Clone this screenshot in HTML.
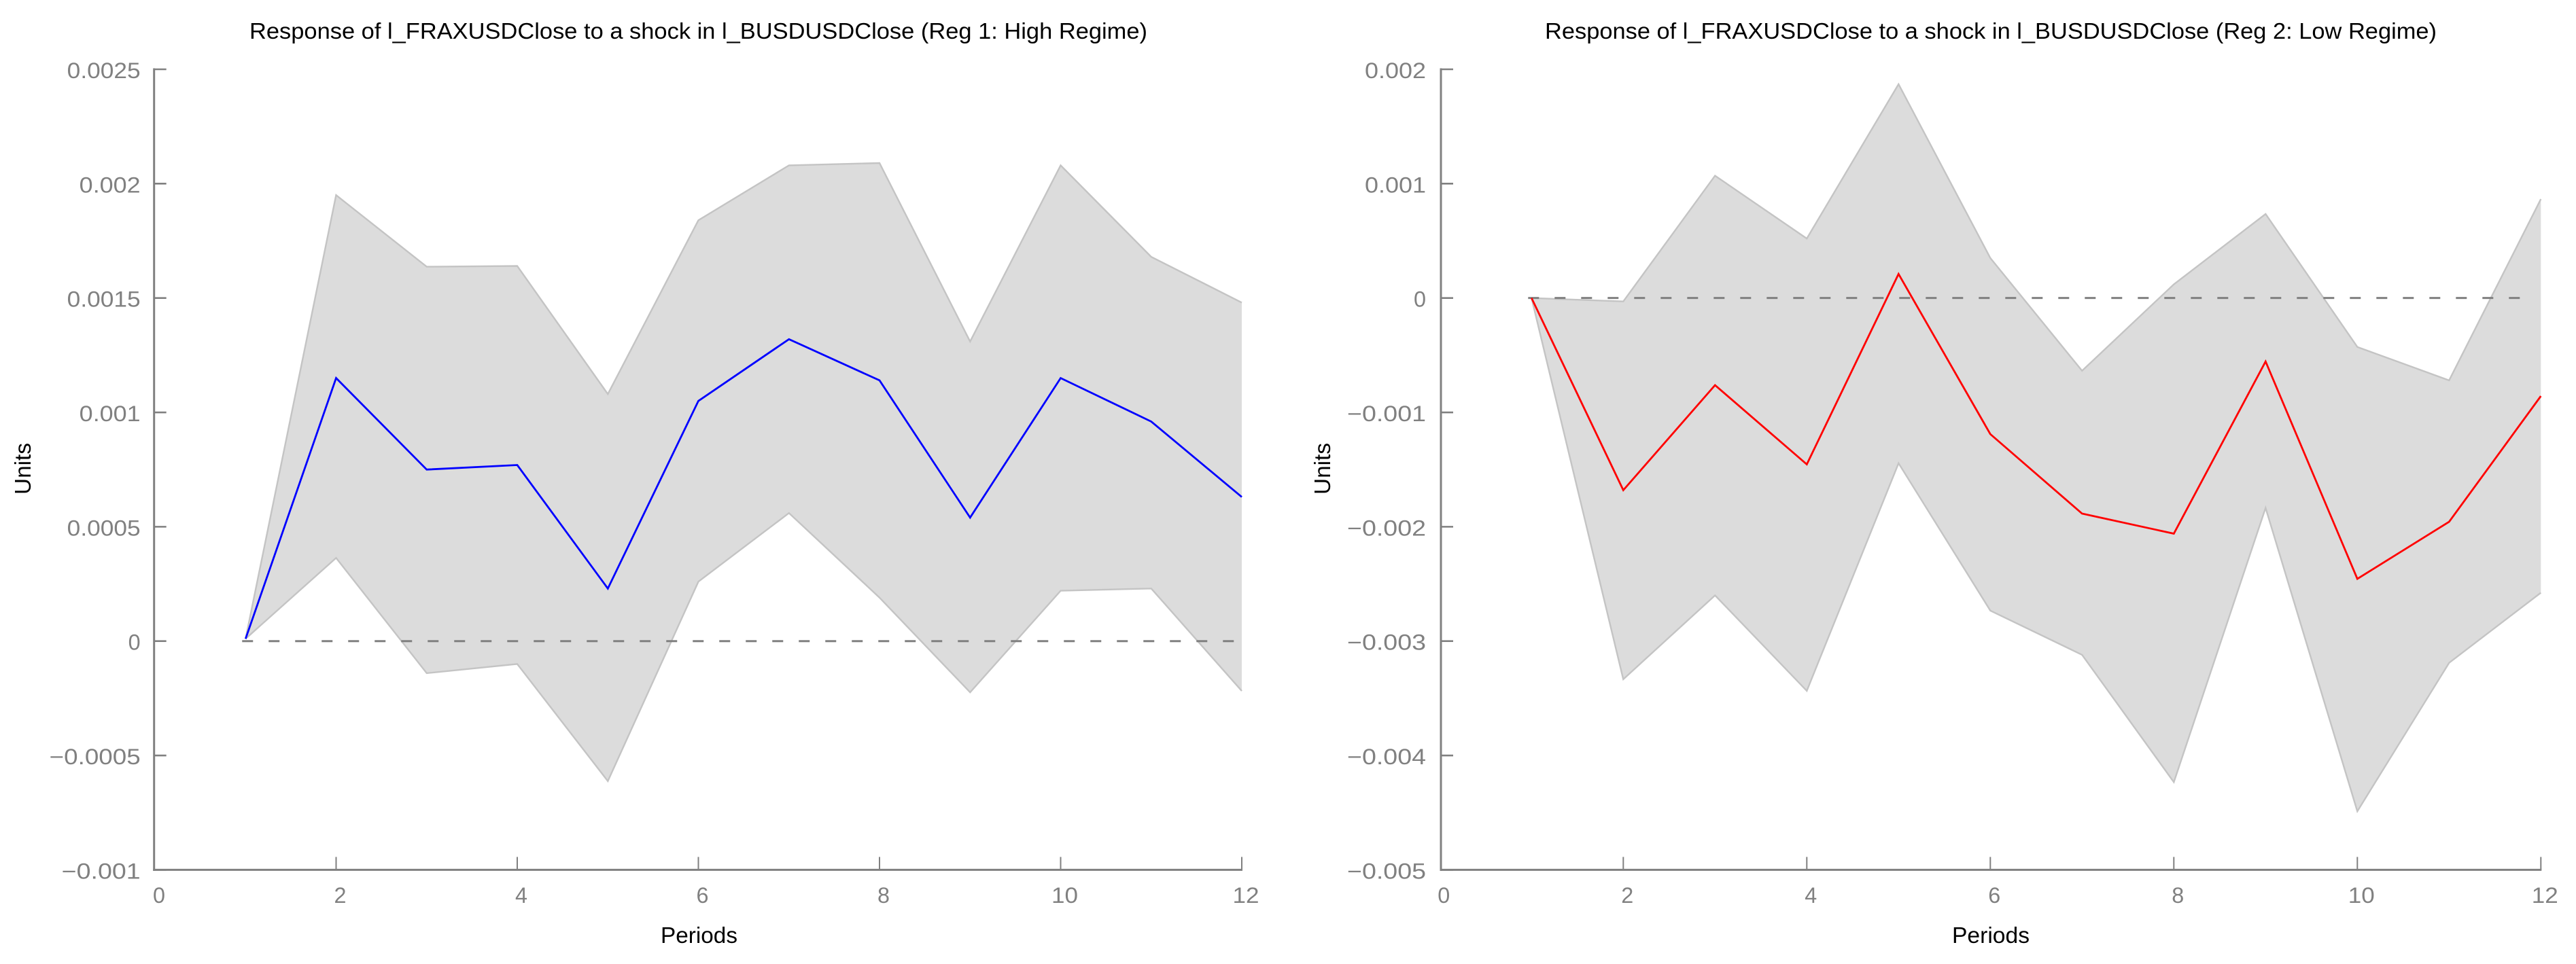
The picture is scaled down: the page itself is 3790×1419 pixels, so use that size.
<!DOCTYPE html>
<html lang="en">
<head>
<meta charset="utf-8">
<title>Impulse responses by regime</title>
<style>
html,body{margin:0;padding:0;background:#fff;width:3790px;height:1419px;overflow:hidden}
svg{display:block}
text{font-family:"Liberation Sans",sans-serif}
</style>
</head>
<body>
<svg id="chart-root" xmlns="http://www.w3.org/2000/svg" width="3790" height="1419" viewBox="0 0 3790 1419">
  <rect x="0" y="0" width="3790" height="1419" fill="#ffffff"/>
  <g id="panel-left">
    <text x="367" y="57" font-size="33" fill="#000" textLength="1321" lengthAdjust="spacingAndGlyphs">Response of l_FRAXUSDClose to a shock in l_BUSDUSDClose (Reg 1: High Regime)</text>
    <text x="972" y="1388" font-size="33" fill="#000" textLength="113" lengthAdjust="spacingAndGlyphs">Periods</text>
    <text transform="translate(45 728) rotate(-90)" x="0" y="0" font-size="33" fill="#000" textLength="76" lengthAdjust="spacingAndGlyphs">Units</text>
  </g>
  <g id="panel-right">
    <text x="2273" y="57" font-size="33" fill="#000" textLength="1312" lengthAdjust="spacingAndGlyphs">Response of l_FRAXUSDClose to a shock in l_BUSDUSDClose (Reg 2: Low Regime)</text>
    <text x="2872" y="1388" font-size="33" fill="#000" textLength="114" lengthAdjust="spacingAndGlyphs">Periods</text>
    <text transform="translate(1957 728) rotate(-90)" x="0" y="0" font-size="33" fill="#000" textLength="76" lengthAdjust="spacingAndGlyphs">Units</text>
  </g>
</svg>
<script>
const periods = [1, 2, 3, 4, 5, 6, 7, 8, 9, 10, 11, 12];
const xTicks = [0, 2, 4, 6, 8, 10, 12];
const xTickLabels = ['0', '2', '4', '6', '8', '10', '12'];

const highTicks = [0.0025, 0.002, 0.0015, 0.001, 0.0005, 0, -0.0005, -0.001];
const highTickLabels = ['0.0025', '0.002', '0.0015', '0.001', '0.0005', '0', '\u22120.0005', '\u22120.001'];
const highResponse = [0.00001, 0.00115, 0.00075, 0.00077, 0.00023, 0.00105, 0.00132, 0.00114, 0.00054, 0.00115, 0.00096, 0.00063];
const highUpper = [0.00001, 0.00195, 0.001637, 0.00164, 0.00108, 0.00184, 0.00208, 0.00209, 0.00131, 0.00208, 0.00168, 0.00148];
const highLower = [0.00001, 0.000364, -0.00014, -0.0001, -0.000612, 0.00026, 0.00056, 0.00019, -0.000224, 0.00022, 0.00023, -0.000218];

const lowTicks = [0.002, 0.001, 0, -0.001, -0.002, -0.003, -0.004, -0.005];
const lowTickLabels = ['0.002', '0.001', '0', '\u22120.001', '\u22120.002', '\u22120.003', '\u22120.004', '\u22120.005'];
const lowResponse = [0, -0.00168, -0.000762, -0.001454, 0.00021, -0.00119, -0.001885, -0.00206, -0.000555, -0.002456, -0.001957, -0.000857];
const lowUpper = [0, -0.00003, 0.00107, 0.00052, 0.00187, 0.00035, -0.000636, 0.00012, 0.000735, -0.000428, -0.00072, 0.000865];
const lowLower = [0, -0.003334, -0.0026, -0.003435, -0.001445, -0.002733, -0.00312, -0.004233, -0.001835, -0.004488, -0.00319, -0.002577];

const SVG_NS = 'http://www.w3.org/2000/svg';

function make(parent, tag, attrs) {
  const el = document.createElementNS(SVG_NS, tag);
  for (const k in attrs) el.setAttribute(k, attrs[k]);
  parent.appendChild(el);
  return el;
}

function labelWidth(s) {
  let w = 0;
  for (const c of s) w += c === '\u2212' ? 26 : 18;
  return w;
}

function drawPanel(cfg) {
  const host = document.getElementById(cfg.host);
  const sx = v => cfg.x0 + v * cfg.xUnit;
  const sy = v => cfg.yBottom - (v - cfg.yMin) * (cfg.yBottom - cfg.yTop) / (cfg.yMax - cfg.yMin);
  const pts = arr => arr.map((v, i) => sx(periods[i]).toFixed(1) + ',' + sy(v).toFixed(1));

  const band = make(host, 'polygon', {
    points: pts(cfg.upper).concat(pts(cfg.lower).reverse()).join(' '),
    fill: '#dcdcdc', stroke: 'none'
  });
  
  

  const up = make(host, 'polyline', {
    points: pts(cfg.upper).join(' '),
    fill: 'none', stroke: '#c4c4c4', 'stroke-width': 2.4
  });
  
  

  const low = make(host, 'polyline', {
    points: pts(cfg.lower).join(' '),
    fill: 'none', stroke: '#c4c4c4', 'stroke-width': 2.4
  });
  
  

  const zero = make(host, 'line', {
    x1: sx(periods[0]) - 5, x2: sx(periods[periods.length - 1]) - 8,
    y1: sy(0), y2: sy(0),
    stroke: '#808080', 'stroke-width': 3, 'stroke-dasharray': '16 23'
  });
  
  

  const resp = make(host, 'polyline', {
    points: pts(cfg.response).join(' '),
    fill: 'none', stroke: cfg.color, 'stroke-width': 2.8, 'stroke-linejoin': 'miter'
  });
  
  

  const yAxis = make(host, 'line', {
    x1: cfg.axisX, x2: cfg.axisX, y1: sy(cfg.yMax) - 1.5, y2: cfg.yBottom + 1.5,
    stroke: '#808080', 'stroke-width': 3
  });
  
  

  const xAxis = make(host, 'line', {
    x1: cfg.axisX - 1.5, x2: sx(12) + 1, y1: cfg.yBottom, y2: cfg.yBottom,
    stroke: '#808080', 'stroke-width': 3
  });
  
  

  cfg.yTicks.forEach((v, i) => {
    const tick = make(host, 'line', {
      x1: cfg.axisX, x2: cfg.axisX + 18, y1: sy(v), y2: sy(v),
      stroke: '#808080', 'stroke-width': 2.6
    });
    
    

    const s = cfg.yLabels[i];
    const label = make(host, 'text', {
      x: cfg.axisX - cfg.labelGap, y: sy(v) + 13, 'text-anchor': 'end',
      'font-size': 32, fill: '#808080',
      textLength: labelWidth(s), lengthAdjust: 'spacingAndGlyphs'
    });
    label.textContent = s;
    
    
  });

  xTicks.forEach((v, i) => {
    if (v !== 0) {
      const tick = make(host, 'line', {
        x1: sx(v), x2: sx(v), y1: cfg.yBottom - 19, y2: cfg.yBottom,
        stroke: '#808080', 'stroke-width': 2
      });
      
      
    }
    const s = xTickLabels[i];
    const label = make(host, 'text', {
      x: sx(v) + 6, y: 1329, 'text-anchor': 'middle',
      'font-size': 32, fill: '#808080',
      textLength: s.length > 1 ? 39 : 18, lengthAdjust: 'spacingAndGlyphs'
    });
    label.textContent = s;
    
    
  });
}

drawPanel({
  host: 'panel-left', x0: 228, xUnit: 133.25, axisX: 226.7, labelGap: 20,
  yTop: 102, yBottom: 1280.4, yMin: -0.001, yMax: 0.0025,
  yTicks: highTicks, yLabels: highTickLabels,
  upper: highUpper, lower: highLower, response: highResponse, color: '#0000ff'
});

drawPanel({
  host: 'panel-right', x0: 2118.3, xUnit: 135, axisX: 2120, labelGap: 22,
  yTop: 102, yBottom: 1280.4, yMin: -0.005, yMax: 0.002,
  yTicks: lowTicks, yLabels: lowTickLabels,
  upper: lowUpper, lower: lowLower, response: lowResponse, color: '#ff0000'
});
</script>
</body>
</html>
